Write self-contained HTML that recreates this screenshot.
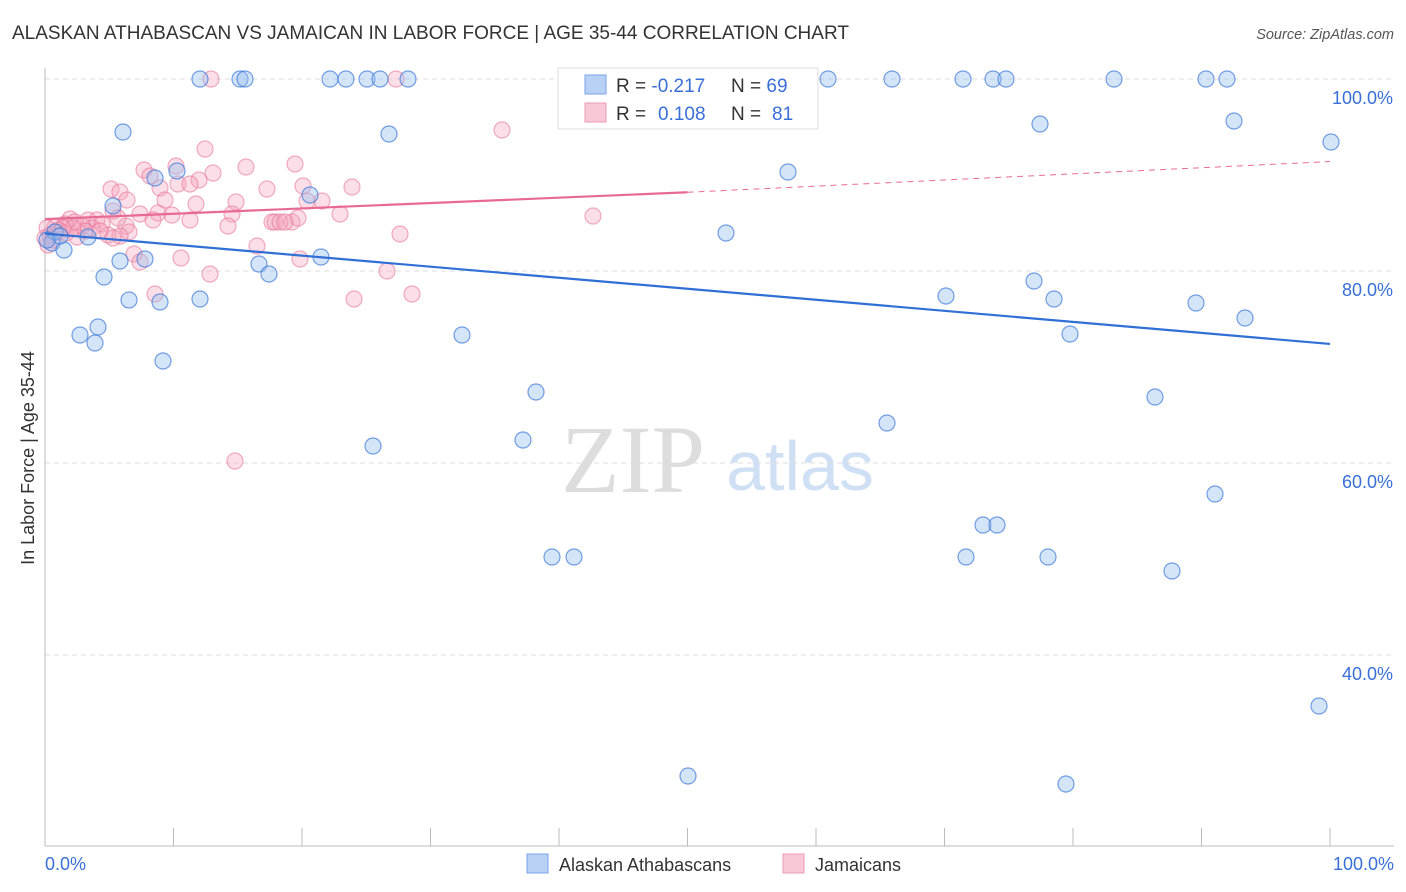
<!DOCTYPE html>
<html><head><meta charset="utf-8"><style>
body{margin:0;background:#fff;font-family:"Liberation Sans",sans-serif;}
svg{display:block}
</style></head><body>
<svg id="chart" width="1406" height="892">
<text x="12" y="39" font-size="19" fill="#333">ALASKAN ATHABASCAN VS JAMAICAN IN LABOR FORCE | AGE 35-44 CORRELATION CHART</text>
<text x="1394" y="39" font-size="14.5" fill="#555" font-style="italic" text-anchor="end">Source: ZipAtlas.com</text>
<text x="633" y="492" font-size="96" fill="#ddd" font-family="Liberation Serif,serif" text-anchor="middle">ZIP</text>
<text x="800" y="490" font-size="70" fill="#cfe0f5" text-anchor="middle">atlas</text>
<g id="grid"></g><g id="pts"></g><g id="lines"></g>
<text x="34" y="458" font-size="18" fill="#333" text-anchor="middle" transform="rotate(-90 34 458)">In Labor Force | Age 35-44</text>
<text x="45" y="870" font-size="18" fill="#3a6fd8">0.0%</text>
<text x="1394" y="870" font-size="18" fill="#3a6fd8" text-anchor="end">100.0%</text>
<g>
<rect x="558" y="68" width="260" height="61" fill="#fff" stroke="#ddd"/>
<rect x="585" y="75" width="21" height="19" fill="#b8d0f3" stroke="#7aa3e8"/>
<rect x="585" y="103" width="21" height="19" fill="#f8c8d6" stroke="#ee9ab4"/>
<text x="616" y="92" font-size="19" fill="#333">R = <tspan fill="#3a6fd8">-0.217</tspan><tspan x="731">N = </tspan><tspan fill="#3a6fd8">69</tspan></text>
<text x="616" y="120" font-size="19" fill="#333">R = <tspan x="658" fill="#3a6fd8">0.108</tspan><tspan x="731">N = </tspan><tspan x="772" fill="#3a6fd8">81</tspan></text>
</g>
<g>
<rect x="527" y="854" width="21" height="19" fill="#b8d0f3" stroke="#7aa3e8"/>
<text x="559" y="871" font-size="18" fill="#333">Alaskan Athabascans</text>
<rect x="783" y="854" width="21" height="19" fill="#f8c8d6" stroke="#ee9ab4"/>
<text x="815" y="871" font-size="18" fill="#333">Jamaicans</text>
</g>
</svg>
<script>
const yTicks=[100,80,60,40];
const yTickLabels=["100.0%","80.0%","60.0%","40.0%"];
const blueXpx=[200,240,245,330,346,367,380,408,828,892,963,993,1006,1114,1206,1227,123,389,1040,1234,1331,788,155,177,310,113,726,52,64,88,120,145,259,269,321,104,129,160,200,80,98,95,163,462,536,373,523,946,1034,1054,1070,1196,1245,1155,887,1215,983,997,552,574,966,1048,1172,1319,688,1066,55,60,47];
const blueYpx=[79,79,79,79,79,79,79,79,79,79,79,79,79,79,79,79,132,134,124,121,142,172,178,171,195,206,233,243,250,237,261,259,264,274,257,277,300,302,299,335,327,343,361,335,392,446,440,296,281,299,334,303,318,397,423,494,525,525,557,557,557,557,571,706,776,784,232,236,240];
const pinkXpx=[211,396,502,205,176,246,295,144,150,213,160,111,120,199,178,190,267,303,352,127,165,196,236,307,322,113,140,158,172,232,340,593,153,190,228,272,275,292,298,88,70,97,102,92,126,108,129,82,75,65,55,47,50,60,77,120,48,400,257,134,140,181,300,387,210,155,354,412,235,58,66,85,100,113,73,53,63,45,280,118,285];
const pinkYpx=[79,79,130,149,166,167,164,170,176,173,188,189,192,180,184,184,189,186,187,200,200,204,202,201,201,211,214,213,215,214,214,216,220,220,226,222,222,222,218,220,219,220,224,228,226,235,232,226,222,224,227,228,235,232,237,236,245,234,246,254,262,258,259,271,274,294,299,294,461,230,233,231,231,238,228,240,228,238,222,218,222];
const toX=p=>(p-45)/12.85, toY=p=>100-(p-79)/9.6;
const blueX=blueXpx.map(toX), blueY=blueYpx.map(toY);
const pinkX=pinkXpx.map(toX), pinkY=pinkYpx.map(toY);
const blueTrend=[83.9,72.4], pinkTrend=[85.4,88.2,91.4];
const X=v=>45+v*12.85, Y=v=>79+(100-v)*9.6;
const NS="http://www.w3.org/2000/svg";
function mk(t,a,p){const e=document.createElementNS(NS,t);for(const k in a)e.setAttribute(k,a[k]);p.appendChild(e);return e;}
const g=document.getElementById('grid');
yTicks.forEach((v,i)=>{
 const l=mk('line',{x1:45,x2:1394,y1:Y(v),y2:Y(v),stroke:'#ddd','stroke-dasharray':'5,4'},g);
 
 
 const t=mk('text',{x:1393,y:Y(v)+25,'font-size':18,fill:'#3a6fd8','text-anchor':'end'},g);
 t.textContent=yTickLabels[i];
 
 
});
mk('line',{x1:45,x2:45,y1:68,y2:846,stroke:'#bbb'},g);
mk('line',{x1:45,x2:1394,y1:846,y2:846,stroke:'#bbb'},g);
for(let i=0;i<=10;i++){const tk=mk('line',{x1:45+i*128.5,x2:45+i*128.5,y1:828,y2:846,stroke:'#bbb'},g);
 
 }
const pts=document.getElementById('pts');
pinkX.forEach((x,i)=>{const c=mk('circle',{cx:X(x),cy:Y(pinkY[i]),r:8,fill:'rgba(244,160,185,0.35)',stroke:'rgba(232,120,155,0.6)','stroke-width':1.2},pts);
 
 });
blueX.forEach((x,i)=>{const c=mk('circle',{cx:X(x),cy:Y(blueY[i]),r:8,fill:'rgba(150,190,240,0.4)',stroke:'rgba(60,120,215,0.7)','stroke-width':1.2},pts);
 
 });
const L=document.getElementById('lines');
const b=mk('line',{x1:X(0),y1:Y(blueTrend[0]),x2:X(100),y2:Y(blueTrend[1]),stroke:'#2f6fd6','stroke-width':2.2},L);


const p1=mk('line',{x1:X(0),y1:Y(pinkTrend[0]),x2:X(50),y2:Y(pinkTrend[1]),stroke:'#e86a94','stroke-width':2.2},L);


const p2=mk('line',{x1:X(50),y1:Y(pinkTrend[1]),x2:X(100),y2:Y(pinkTrend[2]),stroke:'#e86a94','stroke-width':1,'stroke-dasharray':'6,5'},L);


</script>
</body></html>
